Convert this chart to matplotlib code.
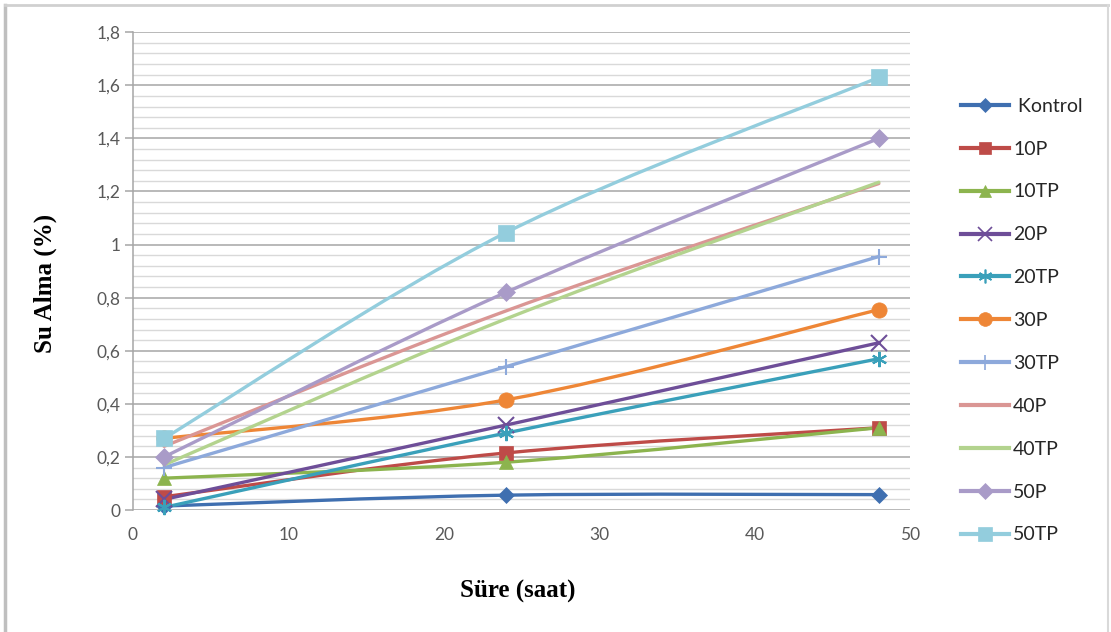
import matplotlib
matplotlib.use("Agg")
import matplotlib.pyplot as plt
from matplotlib.path import Path
from matplotlib.patches import PathPatch
from matplotlib.lines import Line2D
from matplotlib.ticker import FuncFormatter, MultipleLocator
import numpy as np

# hours
sure = [2, 24, 48]

series_names = ['Kontrol', '10P', '10TP', '20P', '20TP', '30P', '30TP', '40P', '40TP', '50P', '50TP']
kontrol = [0.015, 0.056, 0.058]
p10 = [0.05, 0.215, 0.31]
tp10 = [0.12, 0.18, 0.31]
p20 = [0.04, 0.32, 0.63]
tp20 = [0.01, 0.29, 0.57]
p30 = [0.27, 0.415, 0.755]
tp30 = [0.16, 0.54, 0.955]
p40 = [0.24, 0.75, 1.23]
tp40 = [0.17, 0.72, 1.235]
p50 = [0.20, 0.82, 1.40]
tp50 = [0.27, 1.045, 1.63]
values = [kontrol, p10, tp10, p20, tp20, p30, tp30, p40, tp40, p50, tp50]

colors = ['#3F6FB0', '#BE4B48', '#8CB44E', '#6E4E98', '#3AA0BA', '#EE8636',
          '#8DA9DB', '#DA9694', '#B3D38E', '#A99BC8', '#93CDDD']
markers = ['D', 's', '^', 'x', (6, 2, 0), 'o', '+', None, None, 'D', 's']
msizes = [8, 10, 10, 11, 11, 11, 12, 0, 0, 9, 11]


def smooth_path(xs, ys):
    # Excel-like smoothed line: cubic bezier segments through the data points
    pts = np.column_stack([xs, ys]).astype(float)
    ext = np.vstack([pts[0], pts, pts[-1]])
    verts = [tuple(pts[0])]
    codes = [Path.MOVETO]
    for i in range(len(pts) - 1):
        p0, p1, p2, p3 = ext[i], ext[i + 1], ext[i + 2], ext[i + 3]
        c1 = p1 + (p2 - p0) / 6.0
        c2 = p2 - (p3 - p1) / 6.0
        verts += [tuple(c1), tuple(c2), tuple(p2)]
        codes += [Path.CURVE4] * 3
    return Path(verts, codes)


fig = plt.figure(figsize=(11.11, 6.32), dpi=100)
ax = fig.add_axes([0.1197, 0.193, 0.6993, 0.756])

handles = []
for name, ys, c, m, ms in zip(series_names, values, colors, markers, msizes):
    ax.add_patch(PathPatch(smooth_path(sure, ys), facecolor='none', edgecolor=c,
                           lw=2.4, zorder=3, capstyle='round'))
    if m is not None:
        ax.plot(sure, ys, linestyle='none', marker=m, markersize=ms, color=c,
                markeredgewidth=1.5 if m in ('x', '+', (6, 2, 0)) else 0.5,
                zorder=4, clip_on=False)
    handles.append(Line2D([], [], color=c, lw=3, marker=m if m is not None else '',
                          markersize=ms * 0.9, markeredgewidth=1.2 if m in ('x', '+', (6, 2, 0)) else 0.5))

ax.set_xlim(0, 50)
ax.set_ylim(0, 1.8)
ax.xaxis.set_major_locator(MultipleLocator(10))
ax.yaxis.set_major_locator(MultipleLocator(0.2))
ax.yaxis.set_minor_locator(MultipleLocator(0.04))


def comma(v, pos):
    s = f"{v:.1f}".rstrip('0').rstrip('.')
    return s.replace('.', ',')


ax.yaxis.set_major_formatter(FuncFormatter(comma))
ax.grid(axis='y', which='major', color='#A6A6A6', lw=1.1, zorder=0)
ax.grid(axis='y', which='minor', color='#D9D9D9', lw=1.0, zorder=0)
ax.grid(axis='x', visible=False)
for s in ['top', 'right', 'bottom']:
    ax.spines[s].set_visible(False)
ax.spines['left'].set_color('#A6A6A6')
ax.spines['left'].set_linewidth(1.1)
ax.tick_params(axis='y', which='major', length=6, color='#A6A6A6', width=1.1,
               labelsize=12.5, labelcolor='#595959', pad=3)
ax.tick_params(axis='y', which='minor', length=0)
ax.tick_params(axis='x', length=0, labelsize=12.5, labelcolor='#595959', pad=12)
for lab in ax.get_xticklabels() + ax.get_yticklabels():
    lab.set_family(['Lato', 'DejaVu Sans'])

fig.text(0.466, 0.064, 'Süre (saat)', family='Liberation Serif', weight='bold',
         fontsize=18, ha='center', va='center')
fig.text(0.041, 0.552, 'Su Alma (%)', family='Liberation Serif', weight='bold',
         fontsize=18, ha='center', va='center', rotation=90)

legend_labels = [' ' + series_names[0]] + series_names[1:]
leg = fig.legend(handles, legend_labels, loc='upper left', bbox_to_anchor=(0.849, 0.873),
                 frameon=False, handlelength=2.5, handletextpad=0.2,
                 labelspacing=1.33, prop={'family': 'Lato', 'size': 14})
for t in leg.get_texts():
    t.set_color('#262626')

# outer chart border
fig.add_artist(Line2D([0.0045, 0.0045], [0.0, 0.992], color='#BFBFBF', lw=2.5, transform=fig.transFigure))
fig.add_artist(Line2D([0.0045, 0.997], [0.992, 0.992], color='#D0D0D0', lw=2, transform=fig.transFigure))
fig.add_artist(Line2D([0.997, 0.997], [0.0, 0.992], color='#D9D9D9', lw=1.5, transform=fig.transFigure))

fig.savefig('out.png', dpi=100)
